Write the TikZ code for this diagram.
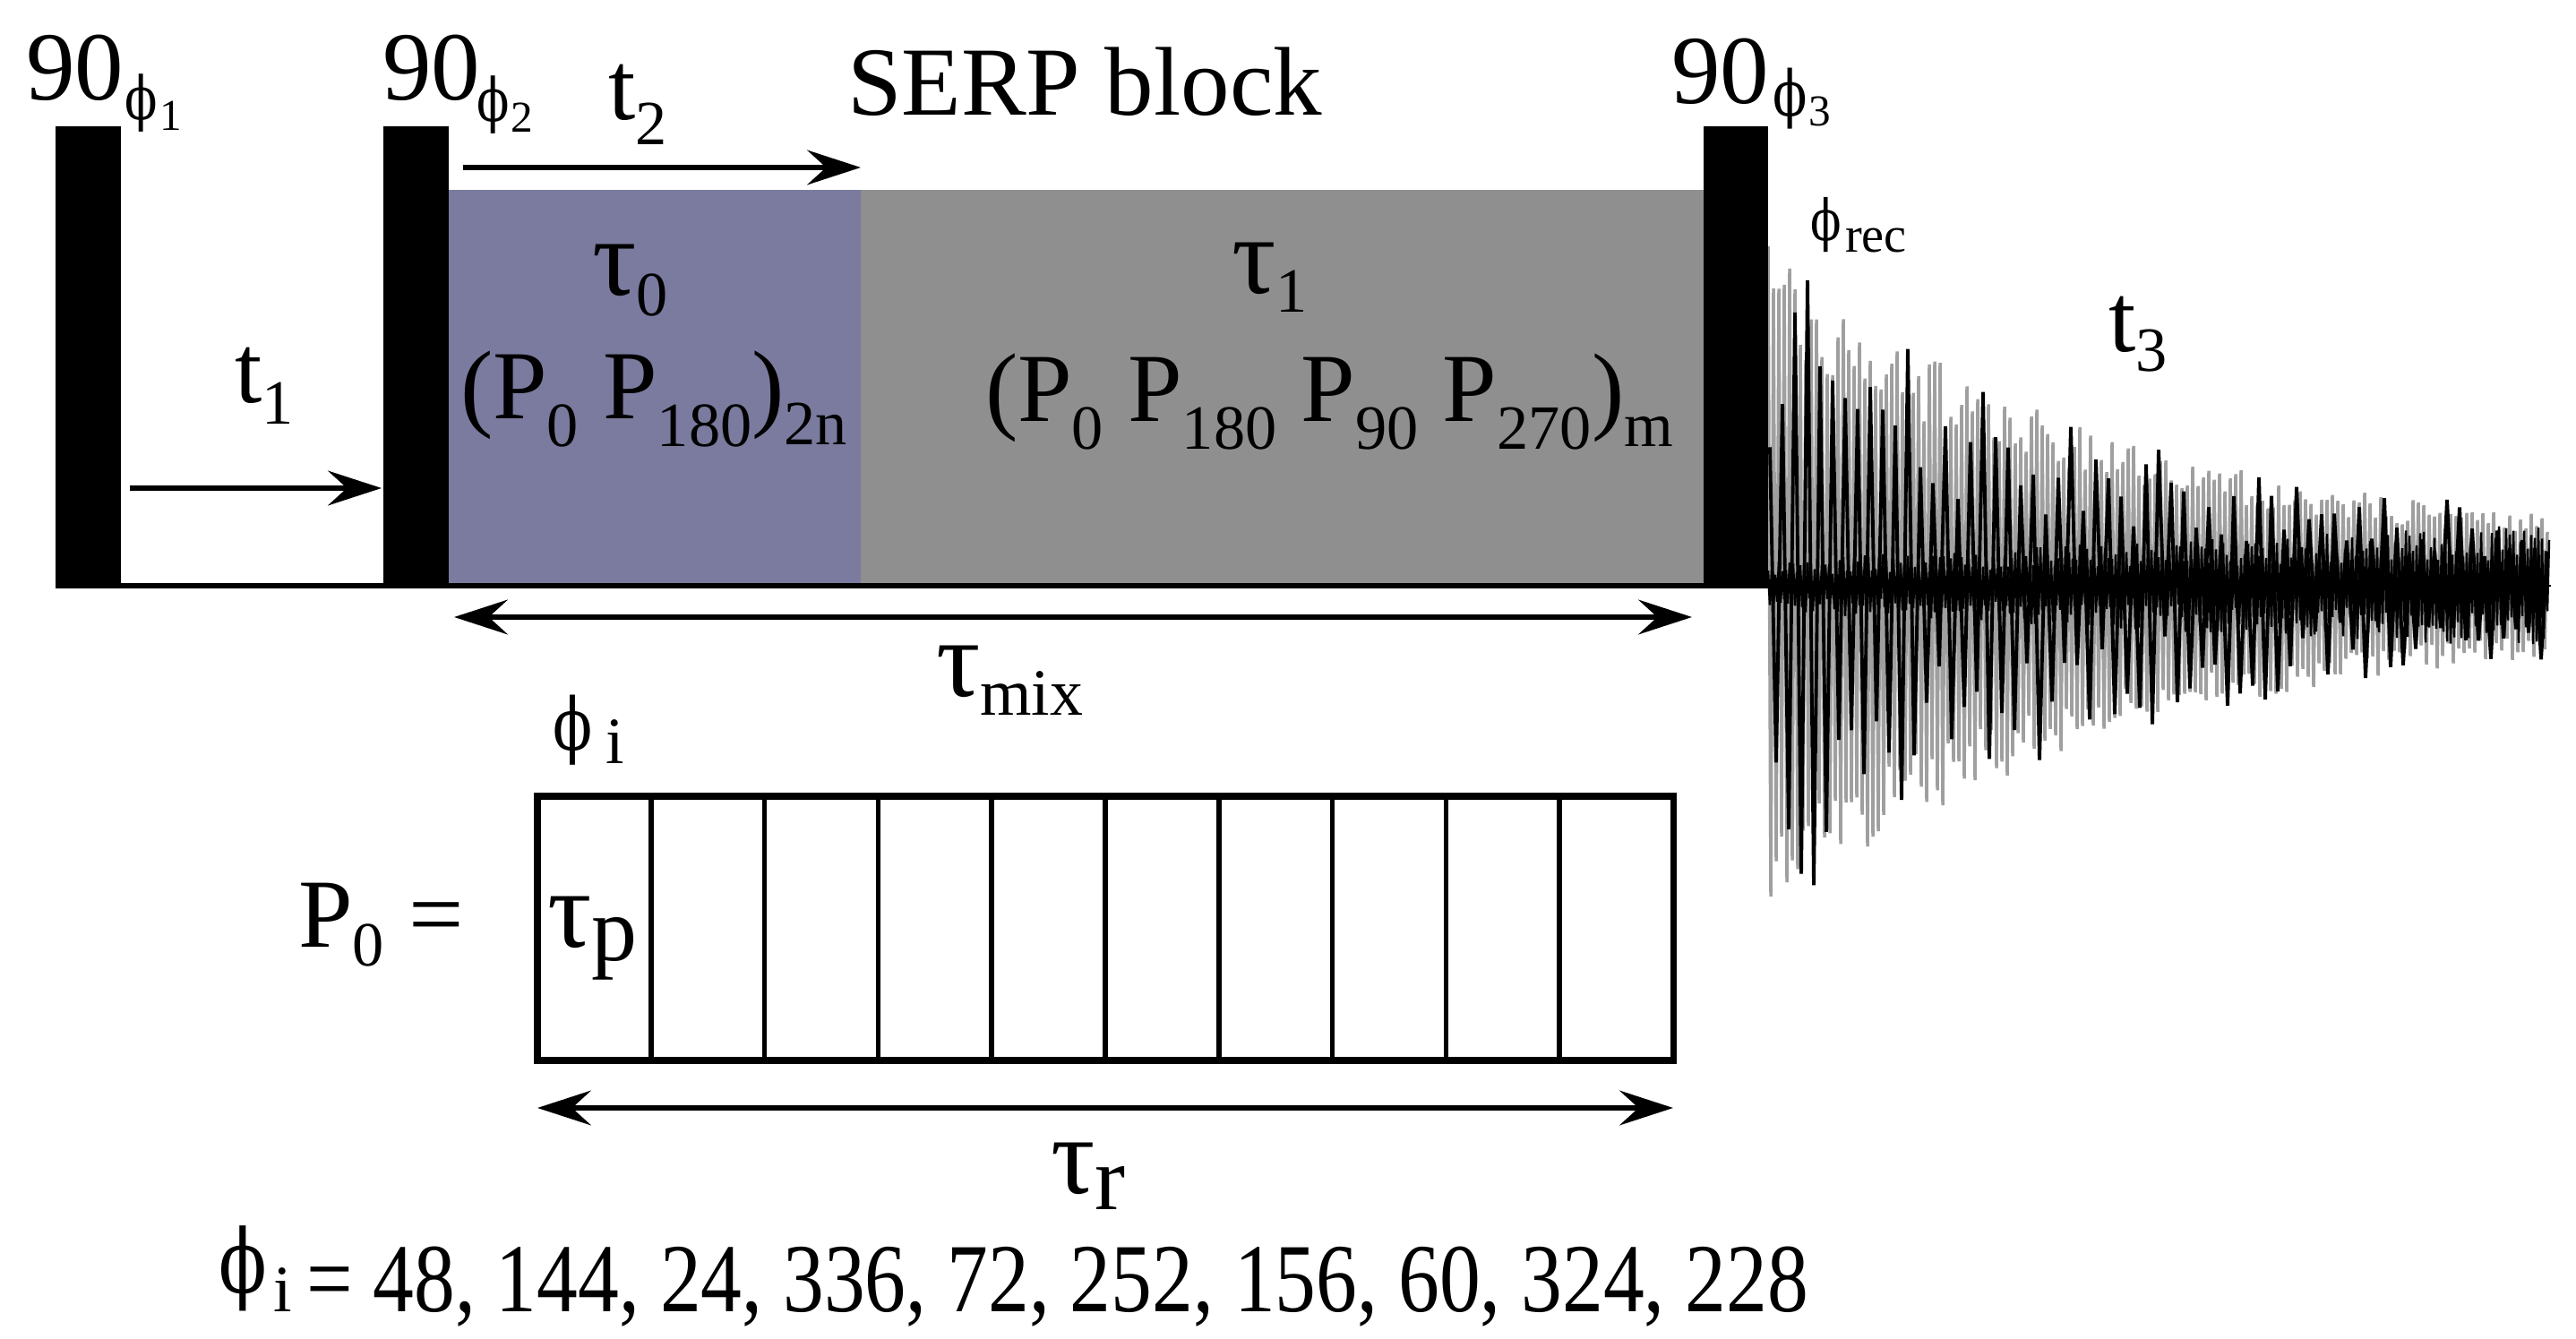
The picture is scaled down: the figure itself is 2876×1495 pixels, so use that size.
\documentclass[tikz,border=0pt]{standalone}
\usepackage{fontspec}
\setmainfont{Liberation Serif}
\newfontfamily\phifont{DejaVu Serif}
\usetikzlibrary{arrows.meta}
\definecolor{blkzero}{RGB}{122,123,158}
\definecolor{blkone}{RGB}{143,143,143}
\newcommand\fs[1]{\fontsize{#1}{#1}\selectfont}
\newcommand\lo[3]{\raisebox{-#1}{\fs{#2}#3}}
\newcommand\tauc{{\fs{35}τ}}
\begin{document}
\begin{tikzpicture}[x=0.01cm,y=-0.01cm,
  lbl/.style={anchor=base west, inner sep=0pt, outer sep=0pt, font={\fs{31}}},
  phl/.style={anchor=base west, inner sep=0pt, outer sep=0pt, xscale=0.8, font={\phifont\fs{#1}}},
  arr/.style={line width=1.7pt, -{Stealth[length=17pt,width=11pt,inset=6pt]}},
  darr/.style={line width=1.7pt, {Stealth[length=17pt,width=11pt,inset=6pt]}-{Stealth[length=17pt,width=11pt,inset=6pt]}},
  pulse/.style={fill=black},
  ]
\useasboundingbox (0,0) rectangle (2876,1495);
\fill[white] (0,0) rectangle (2876,1495);

% blocks
\fill[blkzero] (501,212) rectangle (961,654);
\fill[blkone] (961,212) rectangle (1902,654);

% FID
\pgfmathsetseed{11}
\draw[gray!75, line width=1pt] plot[variable=\t, domain=0:290, samples=291]
  ({1974+3*\t}, {654 - (1-2*mod(round(\t),2))*(45+340*exp(-3*\t/380))*(0.7+0.3*rnd)});
\draw[black, line width=1.1pt] plot[variable=\t, domain=0:124, samples=125]
  ({1976+7*\t}, {654 - (1-2*mod(round(\t),2))*(50+340*exp(-7*\t/380))*(0.35+0.65*rnd)});
\draw[black, line width=0.7pt] plot[variable=\t, domain=0:436, samples=437]
  ({1974+2*\t}, {654 - (1-2*mod(round(\t),2))*(30+40*(2*\t/874))*(0.4+0.6*rnd)});

% baseline and pulses
\draw[line width=1.7pt] (62,654) -- (1974,654);
\draw[line width=0.8pt] (1974,654) -- (2848,654);
\fill[pulse] (62,141) rectangle (135,657);
\fill[pulse] (428,141) rectangle (501,657);
\fill[pulse] (1902,141) rectangle (1974,657);

% arrows
\coordinate (a1s) at (145,545); \coordinate (a1e) at (426,545);
\draw[arr] (a1s) -- (a1e);
\coordinate (a2s) at (517,187); \coordinate (a2e) at (961,187);
\draw[arr] (a2s) -- (a2e);
\coordinate (ams) at (507,689); \coordinate (ame) at (1889,689);
\draw[darr] (ams) -- (ame);
\coordinate (ars) at (600,1237); \coordinate (are) at (1868,1237);
\draw[darr] (ars) -- (are);

% P0 box
\draw[line width=2pt] (600,889) rectangle (1868,1184);
\foreach \k in {1,...,9} {
  \draw[line width=1.6pt] ({600+126.8*\k},889) -- ({600+126.8*\k},1184);
}

% labels
\node[lbl] (n90a) at (29,112) {90};
\node[phl=19] (ph1) at (139,134) {ϕ};
\node[lbl,font={\fs{14}}] (ph1s) at (178,146) {1};
\node[lbl] (n90b) at (427,112) {90};
\node[phl=19] (ph2) at (532,136) {ϕ};
\node[lbl,font={\fs{14}}] (ph2s) at (570,148) {2};
\node[lbl] (n90c) at (1866,116) {90};
\node[phl=20] (ph3) at (1979,130) {ϕ};
\node[lbl,font={\fs{14}}] (ph3s) at (2019,141) {3};

\node[lbl] (t2) at (679,134) {t\lo{0.27cm}{20}{2}};
\node[lbl] (serp) at (946,129) {SERP block};
\node[lbl] (tau0) at (661,330) {\tauc\lo{0.22cm}{20}{0}};
\node[lbl] (seq0) at (514,468) {(P\lo{0.3cm}{20}{0} P\lo{0.3cm}{20}{180})\lo{0.28cm}{20}{2n}};
\node[lbl] (tau1) at (1375,328) {\tauc\lo{0.2cm}{20}{1}};
\node[lbl] (seq1) at (1100,471) {(P\lo{0.3cm}{20}{0} P\lo{0.3cm}{20}{180} P\lo{0.3cm}{20}{90} P\lo{0.3cm}{20}{270})\lo{0.27cm}{20}{m}};
\node[lbl] (t1) at (262,450) {t\lo{0.23cm}{20}{1}};
\node[lbl] (taumix) at (1045,778) {\tauc\lo{0.2cm}{21}{mix}};
\node[phl=18] (phrec) at (2021,269) {ϕ};
\node[lbl,font={\fs{16}}] (rec) at (2060,282) {rec};
\node[lbl] (t3) at (2354,393) {t\lo{0.21cm}{20}{3}};

\node[phl=23] (phi) at (617,838) {ϕ};
\node[lbl,font={\fs{21}}] (phis) at (676,853) {i};
\node[lbl] (p0eq) at (333,1057) {P\lo{0.21cm}{20}{0} =};
\node[lbl] (taup) at (611,1057) {\tauc\lo{0.15cm}{29}{p}};
\node[lbl] (taur) at (1173,1332) {\tauc\lo{0.18cm}{29}{r}};

\node[phl=28] (phl) at (244,1443) {ϕ};
\node[lbl,font={\fs{21}}] (phls) at (305,1464) {i};
\node[lbl,xscale=0.84] (list) at (342,1464) {= 48, 144, 24, 336, 72, 252, 156, 60, 324, 228};
\end{tikzpicture}
\end{document}
